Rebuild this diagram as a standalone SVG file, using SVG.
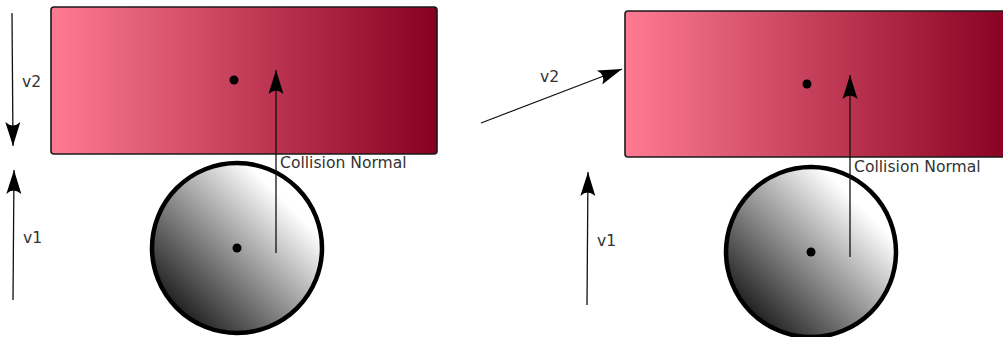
<svg xmlns="http://www.w3.org/2000/svg" width="1003" height="337" viewBox="0 0 1003 337">
<style>
.box{stroke:#1a1a1a;stroke-width:1.6;fill:url(#rg)}
.ball{stroke:#000;stroke-width:4.5;fill:url(#cg)}
.dot{fill:#000}
.arr{stroke:#111;stroke-width:1.3;fill:none;marker-end:url(#ah)}
.lbl{font-family:"DejaVu Sans",sans-serif;font-size:15.6px;fill:#333}
</style>
<defs>
<linearGradient id="rg" x1="0" y1="0" x2="1" y2="0">
<stop offset="0" stop-color="#ff7b92"/>
<stop offset="1" stop-color="#880020"/>
</linearGradient>
<linearGradient id="cg" x1="0.1" y1="0.9" x2="0.9" y2="0.1">
<stop offset="0" stop-color="#111111"/>
<stop offset="0.85" stop-color="#ffffff"/>
</linearGradient>
<marker id="ah" viewBox="-26 -9 28 18" refX="0" refY="0" markerWidth="28" markerHeight="18" markerUnits="userSpaceOnUse" orient="auto">
<path d="M0,0 L-24,-7.5 Q-17,0 -24,7.5 Z" fill="#000"/>
</marker>
</defs>
<g id="left-box"><rect class="box" x="51" y="7" width="386" height="147" rx="3"/><circle class="dot" cx="234" cy="80" r="4.5"/></g>
<g id="left-ball"><circle class="ball" cx="237" cy="248" r="85"/><circle class="dot" cx="237" cy="248" r="4.5"/></g>
<g id="right-box"><rect class="box" x="625" y="11" width="386" height="146" rx="3"/><circle class="dot" cx="807" cy="84" r="4.5"/></g>
<g id="right-ball"><circle class="ball" cx="811" cy="252" r="85"/><circle class="dot" cx="811" cy="252" r="4.5"/></g>
<g id="connectors">
<line class="arr" x1="12" y1="13" x2="13" y2="146"/>
<line class="arr" x1="13" y1="300" x2="14" y2="170"/>
<line class="arr" x1="276" y1="253" x2="276" y2="70"/>
<line class="arr" x1="481" y1="123" x2="622" y2="69"/>
<line class="arr" x1="587" y1="305" x2="588" y2="172"/>
<line class="arr" x1="850" y1="257" x2="850" y2="75"/>
</g>
<g id="labels">
<text class="lbl" x="22" y="87">v2</text>
<text class="lbl" x="23" y="243">v1</text>
<text class="lbl" x="280" y="168">Collision Normal</text>
<text class="lbl" x="540" y="82">v2</text>
<text class="lbl" x="597" y="246">v1</text>
<text class="lbl" x="854" y="172">Collision Normal</text>
</g>
</svg>
